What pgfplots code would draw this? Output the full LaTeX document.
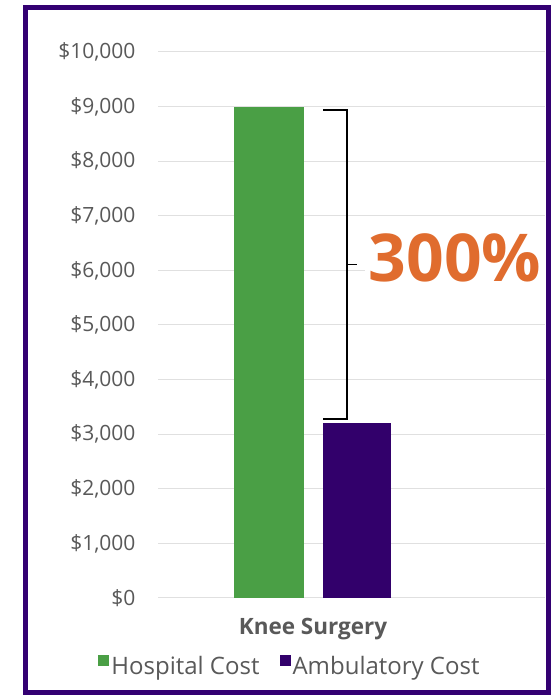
\documentclass[border=0pt]{standalone}
\usepackage{pgfplots}
\pgfplotsset{compat=1.18}
\usepackage{fontspec}
\setmainfont{Open Sans}
\definecolor{hgreen}{RGB}{74,159,69}
\definecolor{apurple}{RGB}{50,0,107}
\definecolor{bpurple}{RGB}{51,0,114}
\definecolor{txtgray}{RGB}{89,89,89}
\definecolor{gridgray}{RGB}{224,224,224}
\definecolor{orangetxt}{RGB}{224,108,46}
\begin{document}
\begin{tikzpicture}[x=1pt,y=1pt]
\useasboundingbox (0,0) rectangle (556,695);
\fill[white] (0,0) rectangle (556,695);
\begin{axis}[
  at={(158pt,97pt)}, anchor=south west,
  scale only axis, width=387pt, height=546pt,
  xmin=0, xmax=387, ymin=0, ymax=10000,
  scaled y ticks=false,
  axis line style={draw=none},
  ytick={0,1000,...,10000},
  yticklabels={\$0,{\$1,000},{\$2,000},{\$3,000},{\$4,000},{\$5,000},{\$6,000},{\$7,000},{\$8,000},{\$9,000},{\$10,000}},
  yticklabel style={font=\fontsize{21}{24}\selectfont, text=txtgray, anchor=east, xshift=-19pt},
  ymajorgrids, grid style={gridgray, line width=1pt},
  major tick length=0pt,
  xtick={155}, xticklabels={Knee Surgery},
  xticklabel style={font=\bfseries\fontsize{22.5}{26}\selectfont, text=txtgray, yshift=-17pt},
  legend style={at={(axis cs:132,-1240)}, anchor=center, draw=none, fill=none,
    font=\fontsize{24}{28}\selectfont, text=txtgray, legend columns=2,
    /tikz/every even column/.append style={column sep=18pt}},
  legend image code/.code={\fill[#1] (2pt,0pt) rectangle (13pt,11pt);},
  clip=false,
]
\addplot[ybar, bar shift=0pt, bar width=70, fill=hgreen, draw=none] coordinates {(111,9000)};
\addlegendentry{Hospital Cost}
\addplot[ybar, bar shift=0pt, bar width=68, fill=apurple, draw=none] coordinates {(199,3200)};
\addlegendentry{Ambulatory Cost}
\draw[black, line width=1.3pt] (axis cs:165,8940) -- (axis cs:189,8940) -- (axis cs:189,3280) -- (axis cs:165,3280);
\draw[black, line width=1.1pt] (axis cs:189,6100) -- (axis cs:199,6100);
\node[fill=white, inner xsep=4pt, inner ysep=2pt, text=orangetxt, font=\bfseries\fontsize{66}{70}\selectfont] at (axis cs:297,6230) {300\%};
\end{axis}
\draw[bpurple, line width=5pt] (25.5,2.5) rectangle (548,687.5);
\end{tikzpicture}
\end{document}
